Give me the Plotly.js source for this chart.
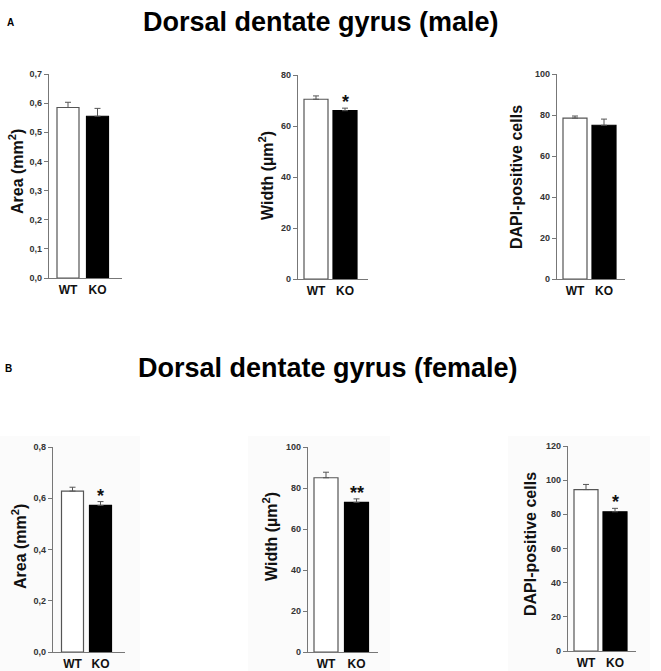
<!DOCTYPE html>
<html><head><meta charset="utf-8">
<script src="https://cdn.plot.ly/plotly-3.0.1.min.js"></script>
<style>body{margin:0;padding:0;background:#fff}#chart{width:661px;height:671px}</style>
</head><body><div id="chart"></div>
<script>
// ---- data ----
const groups = ['WT', 'KO'];
const maleArea = [0.585, 0.555];
const maleAreaErr = [0.018, 0.027];
const maleWidth = [70.5, 66.0];
const maleWidthErr = [1.3, 1.0];
const maleDapi = [78.5, 75.0];
const maleDapiErr = [1.0, 3.0];
const femaleArea = [0.628, 0.572];
const femaleAreaErr = [0.015, 0.015];
const femaleWidth = [85.0, 73.0];
const femaleWidthErr = [2.7, 1.7];
const femaleDapi = [94.5, 81.5];
const femaleDapiErr = [3.0, 2.0];
const yTitles = ['Area (mm<sup>2</sup>)', 'Width (µm<sup>2</sup>)', 'DAPI-positive cells'];
const panelTitles = ['Dorsal dentate gyrus (male)', 'Dorsal dentate gyrus (female)'];
const panelLetters = ['A', 'B'];

// ---- layout geometry (pixels) ----
const W = 661, H = 671;
const panels = [
  {vals: maleArea, errs: maleAreaErr, star: '', ymax: 0.7, dtick: 0.1, fmt: '.1f', x0: 49, cW: 68, cK: 97.5, x1: 122, bw: 22, yTop: 74, yBot: 278, tx: 16, ty: 172},
  {vals: maleWidth, errs: maleWidthErr, star: '*', ymax: 80, dtick: 20, fmt: 'd', x0: 298, cW: 316, cK: 345, x1: 368, bw: 24, yTop: 75, yBot: 279, tx: 266, ty: 176},
  {vals: maleDapi, errs: maleDapiErr, star: '', ymax: 100, dtick: 20, fmt: 'd', x0: 557, cW: 575, cK: 604, x1: 625, bw: 24, yTop: 74, yBot: 279, tx: 517, ty: 177},
  {vals: femaleArea, errs: femaleAreaErr, star: '*', ymax: 0.8, dtick: 0.2, fmt: '.1f', x0: 53, cW: 72.5, cK: 100.5, x1: 125, bw: 22, yTop: 447, yBot: 652, tx: 19, ty: 547},
  {vals: femaleWidth, errs: femaleWidthErr, star: '**', ymax: 100, dtick: 20, fmt: 'd', x0: 308, cW: 326, cK: 356.5, x1: 378, bw: 24, yTop: 447, yBot: 652, tx: 270, ty: 537},
  {vals: femaleDapi, errs: femaleDapiErr, star: '*', ymax: 120, dtick: 20, fmt: 'd', x0: 568, cW: 586, cK: 615, x1: 636, bw: 24, yTop: 446, yBot: 651, tx: 530, ty: 544}
];

const traces = [];
const layout = {
  width: W, height: H,
  margin: {l: 0, r: 0, t: 0, b: 0},
  paper_bgcolor: '#ffffff', plot_bgcolor: 'rgba(0,0,0,0)',
  showlegend: false,
  separators: ',.',
  font: {family: 'Liberation Sans, Arial, sans-serif'},
  annotations: [],
  shapes: []
};

// very light grey backgrounds behind the female panels
[[0, 140], [248, 390], [508, 650]].forEach(function (b) {
  layout.shapes.push({type: 'rect', xref: 'paper', yref: 'paper', x0: b[0] / W, x1: b[1] / W, y0: 0, y1: 1 - 436 / H,
    fillcolor: '#fbfbfb', line: {width: 0}, layer: 'below'});
});

panels.forEach(function (p, i) {
  const n = i + 1;
  const sfx = n === 1 ? '' : String(n);
  const s = p.cK - p.cW;
  traces.push({
    type: 'bar', x: groups, y: p.vals,
    xaxis: 'x' + sfx, yaxis: 'y' + sfx,
    width: p.bw / s,
    marker: {color: ['#ffffff', '#000000'], line: {color: ['#555555', '#000000'], width: 1.2}},
    error_y: {type: 'data', symmetric: false, array: p.errs, arrayminus: [0, 0], color: '#555555', thickness: 1, width: 3},
    hoverinfo: 'skip'
  });
  layout['xaxis' + sfx] = {
    domain: [p.x0 / W, p.x1 / W],
    anchor: 'y' + sfx,
    type: 'category',
    range: [-(p.cW - p.x0) / s, 1 + (p.x1 - p.cK) / s],
    showline: true, linecolor: '#777777', linewidth: 1.2,
    ticks: '', showgrid: false, zeroline: false,
    tickfont: {size: 12, color: '#111111', weight: 'bold'},
    fixedrange: true
  };
  layout['yaxis' + sfx] = {
    domain: [1 - p.yBot / H, 1 - p.yTop / H],
    anchor: 'x' + sfx,
    range: [0, p.ymax], dtick: p.dtick, tick0: 0, tickformat: p.fmt,
    showline: true, linecolor: '#777777', linewidth: 1.2,
    ticks: 'outside', ticklen: 4, tickcolor: '#777777', tickwidth: 1,
    showgrid: false, zeroline: false,
    tickfont: {size: 9, color: '#333333', weight: 'bold'},
    fixedrange: true
  };
  layout.annotations.push({
    xref: 'paper', yref: 'paper', x: p.tx / W, y: 1 - p.ty / H,
    text: yTitles[i % 3], textangle: -90, showarrow: false,
    xanchor: 'center', yanchor: 'middle',
    font: {size: 16, color: '#111111', weight: 'bold'}
  });
  if (p.star) {
    layout.annotations.push({
      xref: 'x' + sfx, yref: 'y' + sfx,
      x: groups[1], y: p.vals[1] + p.errs[1], text: p.star, showarrow: false,
      yanchor: 'bottom', yshift: -6,
      font: {size: 18, color: '#111111', weight: 'bold'}
    });
  }
});

// panel titles and letters
[[22, 321, 27], [368, 328, 27]].forEach(function (t, k) {
  layout.annotations.push({xref: 'paper', yref: 'paper', x: t[1] / W, y: 1 - t[0] / H,
    text: panelTitles[k], showarrow: false, xanchor: 'center', yanchor: 'middle',
    font: {size: t[2], color: '#000000', weight: 'bold'}});
});
[[22, 10], [368, 8]].forEach(function (t, k) {
  layout.annotations.push({xref: 'paper', yref: 'paper', x: t[1] / W, y: 1 - t[0] / H,
    text: panelLetters[k], showarrow: false, xanchor: 'center', yanchor: 'middle',
    font: {size: 10, color: '#000000', weight: 'bold'}});
});

Plotly.newPlot('chart', traces, layout, {staticPlot: true, displayModeBar: false});
</script></body></html>
